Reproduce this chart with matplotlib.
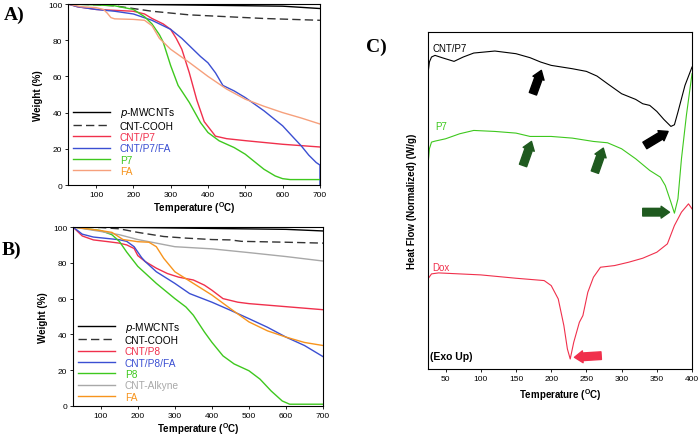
import matplotlib
matplotlib.use("Agg")
import matplotlib.pyplot as plt

plt.rcParams['font.family'] = ['Liberation Sans', 'DejaVu Sans']

# ---------- panel A (TGA, P7) ----------
a_mwcnt_t = [25, 200, 400, 600, 700]
a_mwcnt_w = [100, 99.8, 99.3, 98.8, 97.5]
a_cooh_t = [25, 100, 150, 200, 250, 300, 350, 450, 550, 700]
a_cooh_w = [100, 99.6, 99, 97.5, 96, 95, 94, 93, 92, 91]
a_p7cnt_t = [25, 50, 100, 150, 200, 230, 250, 280, 300, 315, 330, 350, 370, 390, 405, 420, 450, 500, 600, 700]
a_p7cnt_w = [100, 98.5, 97, 96.5, 96, 94.5, 92, 89, 86, 81, 75, 62, 47, 35, 31, 27, 25.6, 24.5, 22.5, 21]
a_p7fa_t = [25, 50, 100, 150, 200, 250, 300, 330, 350, 380, 400, 420, 440, 470, 500, 550, 600, 630, 650, 670, 690, 700, 700]
a_p7fa_w = [100, 98.5, 97, 96, 94.5, 91, 86, 81, 77, 71, 67.5, 62, 55, 52, 48.3, 41, 32.7, 26, 21.6, 16.5, 12.4, 11, 0]
a_p7_t = [25, 100, 150, 200, 230, 250, 270, 280, 300, 320, 350, 380, 400, 430, 470, 500, 530, 550, 580, 600, 620, 700]
a_p7_w = [100, 99.5, 99, 97, 93, 89, 83, 79, 66, 55, 45.6, 34.5, 29, 24.4, 20.7, 17, 12, 8.7, 5, 3.5, 3, 3]
a_fa_t = [25, 60, 100, 120, 130, 140, 150, 200, 230, 250, 270, 300, 350, 400, 450, 500, 550, 600, 650, 700]
a_fa_w = [100, 98.5, 98, 97, 95, 92.5, 91.8, 91.5, 91, 88, 81, 75, 67.7, 60, 53, 47.4, 43.5, 40, 37, 33.7]

# ---------- panel B (TGA, P8) ----------
b_mwcnt_t = [25, 200, 400, 600, 700]
b_mwcnt_w = [100, 99.7, 99.2, 98.7, 97.8]
b_cooh_t = [25, 100, 150, 200, 270, 330, 400, 450, 480, 600, 700]
b_cooh_w = [100, 99.7, 99, 97, 94.7, 93.8, 93, 92.8, 92, 91.5, 91]
b_p8cnt_t = [25, 50, 80, 120, 150, 170, 190, 200, 220, 250, 280, 310, 350, 380, 400, 430, 470, 500, 600, 700]
b_p8cnt_w = [100, 95, 92.8, 91.8, 91, 90, 88, 84, 80.7, 77, 74, 72, 70.4, 67.5, 64.7, 60, 58, 57.2, 55.5, 53.8]
b_p8fa_t = [25, 50, 80, 150, 170, 190, 210, 220, 250, 300, 340, 400, 450, 500, 550, 600, 650, 700]
b_p8fa_w = [100, 96, 94.4, 92.9, 92, 89, 83, 80.7, 75, 68.5, 62.8, 58, 53.5, 48.8, 44, 38.5, 33.8, 27.6]
b_p8_t = [25, 100, 130, 150, 170, 200, 250, 300, 330, 350, 380, 400, 430, 460, 500, 530, 560, 590, 610, 700]
b_p8_w = [100, 98, 95.7, 92, 86, 78, 68.5, 60, 55.3, 50.7, 41.3, 35.6, 28, 23.5, 19.7, 15, 8.4, 2.8, 1, 1]
b_alk_t = [25, 100, 150, 200, 300, 400, 500, 600, 700]
b_alk_w = [100, 97.5, 95.7, 93, 89, 87.8, 85.7, 83.5, 81]
b_fa_t = [25, 100, 130, 160, 200, 230, 250, 270, 300, 350, 400, 450, 500, 550, 600, 650, 700]
b_fa_w = [100, 98, 97, 93, 91.8, 91.5, 89, 82.5, 75, 68.5, 62, 54.4, 47, 42, 38.5, 35.5, 33.8]

# ---------- panel C (DSC) ----------
c_cnt_t = [25, 27, 30, 35, 45, 62, 75, 90, 120, 150, 170, 185, 200, 230, 250, 265, 280, 300, 320, 330, 340, 350,
           360, 370, 375, 380, 390, 400]
c_cnt_y = [88.5, 92, 93.5, 94, 93.3, 92.2, 93.5, 94.7, 95.3, 94.5, 93.3, 92, 91, 90, 89.2, 87.8, 85.5, 82.5, 80.8,
           79.5, 79, 77.2, 74.8, 72.7, 73.2, 77, 85, 90.5]
c_p7_t = [25, 27, 30, 35, 50, 70, 90, 120, 150, 170, 200, 230, 260, 280, 300, 320, 340, 355, 362, 370, 375, 380,
          385, 392, 400]
c_p7_y = [61, 66, 68, 68.3, 69, 70.5, 71.5, 71.2, 70.7, 69.7, 69.7, 69.2, 68.2, 67.8, 66, 63, 59.5, 57.5, 55, 50,
          46.7, 51, 63, 76, 88.5]
c_dox_t = [25, 30, 40, 100, 150, 190, 200, 210, 218, 223, 227, 232, 240, 245, 252, 260, 270, 290, 310, 330, 350,
           365, 375, 385, 395, 400]
c_dox_y = [27, 28.5, 28.8, 28.2, 27.2, 26.5, 25, 21, 13, 6, 3, 8, 14, 16, 23, 27.5, 30.5, 31, 32, 33.2, 35, 37.5,
           43, 47, 49.5, 48]

RED = '#f0304c'
BLUE = '#3b4fd2'
GREEN = '#3ec81e'
FA_A = '#f6a07c'
FA_B = '#f7941d'
GRAY = '#a8a8a8'
xlab = r'Temperature ($\mathregular{^{O}}$C)'

fig = plt.figure(figsize=(7, 4.39), dpi=100)


def tga_axes(ax):
    ax.set_xlim(25, 700)
    ax.set_ylim(0, 100)
    ax.set_xticks([100, 200, 300, 400, 500, 600, 700])
    ax.set_yticks([0, 20, 40, 60, 80, 100])
    ax.tick_params(labelsize=6, length=2, width=0.6, pad=2)
    ax.set_xlabel(xlab, fontsize=7, fontweight='bold', labelpad=1)
    ax.set_ylabel('Weight (%)', fontsize=7, fontweight='bold', labelpad=4)
    for s in ax.spines.values():
        s.set_linewidth(0.8)


def styled_legend(ax, colors, y0):
    leg = ax.legend(loc='lower left', bbox_to_anchor=(0.02, y0), frameon=False, fontsize=7.3,
                    handlelength=3.6, handletextpad=1.0, labelspacing=0.13, borderpad=0, borderaxespad=0)
    for t, c in zip(leg.get_texts(), colors):
        t.set_color(c)


# A
axA = fig.add_axes([0.0971, 0.5763, 0.3600, 0.4123])
axA.plot(a_mwcnt_t, a_mwcnt_w, color='black', lw=1.0, label='$p$-MWCNTs')
axA.plot(a_cooh_t, a_cooh_w, color='#333333', lw=1.0, ls=(0, (6, 3)), label='CNT-COOH')
axA.plot(a_p7cnt_t, a_p7cnt_w, color=RED, lw=1.0, label='CNT/P7')
axA.plot(a_p7fa_t, a_p7fa_w, color=BLUE, lw=1.0, label='CNT/P7/FA')
axA.plot(a_p7_t, a_p7_w, color=GREEN, lw=1.0, label='P7')
axA.plot(a_fa_t, a_fa_w, color=FA_A, lw=1.0, label='FA')
tga_axes(axA)
styled_legend(axA, ['black', 'black', RED, BLUE, GREEN, FA_B], 0.05)

# B
axB = fig.add_axes([0.1043, 0.0729, 0.3571, 0.4077])
axB.plot(b_mwcnt_t, b_mwcnt_w, color='black', lw=1.0, label='$p$-MWCNTs')
axB.plot(b_cooh_t, b_cooh_w, color='#333333', lw=1.0, ls=(0, (6, 3)), label='CNT-COOH')
axB.plot(b_p8cnt_t, b_p8cnt_w, color=RED, lw=1.0, label='CNT/P8')
axB.plot(b_p8fa_t, b_p8fa_w, color=BLUE, lw=1.0, label='CNT/P8/FA')
axB.plot(b_p8_t, b_p8_w, color=GREEN, lw=1.0, label='P8')
axB.plot(b_alk_t, b_alk_w, color=GRAY, lw=1.0, label='CNT-Alkyne')
axB.plot(b_fa_t, b_fa_w, color=FA_B, lw=1.0, label='FA')
tga_axes(axB)
styled_legend(axB, ['black', 'black', RED, BLUE, GREEN, GRAY, FA_B], 0.025)

# C
axC = fig.add_axes([0.6114, 0.1572, 0.3772, 0.7676])
axC.plot(c_cnt_t, c_cnt_y, color='black', lw=0.8)
axC.plot(c_p7_t, c_p7_y, color=GREEN, lw=0.8)
axC.plot(c_dox_t, c_dox_y, color=RED, lw=0.8)
axC.set_xlim(25, 400)
axC.set_ylim(0, 101)
axC.set_xticks([50, 100, 150, 200, 250, 300, 350, 400])
axC.set_yticks([])
axC.tick_params(labelsize=6, length=2, width=0.6, pad=2)
axC.set_xlabel(xlab, fontsize=7, fontweight='bold', labelpad=3)
axC.set_ylabel('Heat Flow (Normalized) (W/g)', fontsize=7, fontweight='bold', labelpad=8)
for s in axC.spines.values():
    s.set_linewidth(0.8)
axC.text(32, 96.2, 'CNT/P7', fontsize=7, color='black', va='center')
axC.text(36, 72.7, 'P7', fontsize=7, color=GREEN, va='center')
axC.text(31, 30.5, 'Dox', fontsize=7, color=RED, va='center')
axC.text(28, 4, '(Exo Up)', fontsize=7.5, fontweight='bold', va='center')

# block arrows
arrows = [((174, 82.5), (186, 89.5), 'black'), ((333, 67), (366, 71.2), 'black'),
          ((160, 61), (172, 68.2), '#1f5a1f'), ((262, 59), (274, 66.2), '#1f5a1f'),
          ((330, 47), (368, 47), '#1f5a1f'), ((271, 4), (233, 3.5), RED)]
for (x0, y0), (x1, y1), c in arrows:
    axC.annotate('', xy=(x1, y1), xytext=(x0, y0),
                 arrowprops=dict(arrowstyle='simple,head_length=0.6,head_width=0.85,tail_width=0.55',
                                 color=c, shrinkA=0, shrinkB=0))

for lbl, x, y in [('A)', 0.005, 0.965), ('B)', 0.003, 0.43), ('C)', 0.523, 0.893)]:
    fig.text(x, y, lbl, fontsize=14, fontweight='bold', family='Liberation Serif', va='center')

fig.savefig('out.png', dpi=100)
